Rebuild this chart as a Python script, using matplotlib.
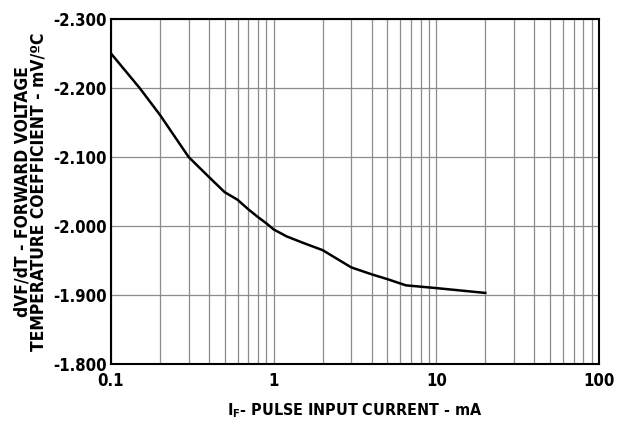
import matplotlib
matplotlib.use("Agg")
import matplotlib.pyplot as plt
from matplotlib.ticker import FixedLocator, FuncFormatter, NullFormatter

plt.rcParams['font.family'] = ['DejaVu Sans']
plt.rcParams['font.stretch'] = 'condensed'
plt.rcParams['font.weight'] = 'bold'

# curve
current_ma = [0.1, 0.15, 0.2, 0.3, 0.4, 0.5, 0.6, 0.7, 0.8, 0.9, 1.0, 1.2, 1.5, 2.0, 3.0, 4.0, 5.0, 6.5, 10.0, 20.0]
coeff_mv = [-2.250, -2.200, -2.161, -2.100, -2.071, -2.049, -2.038, -2.024, -2.013, -2.004, -1.995,
            -1.985, -1.976, -1.965, -1.940, -1.930, -1.923, -1.914, -1.910, -1.903]

y_ticks = [-2.3, -2.2, -2.1, -2.0, -1.9, -1.8]
x_ticks = [0.1, 1, 10, 100]
x_labels = ["0.1", "1", "10", "100"]

fig = plt.figure(figsize=(6.19, 4.28), dpi=100)
ax = fig.add_axes([111 / 619, 1 - 364 / 428, 488 / 619, 345 / 428])

ax.plot(current_ma, coeff_mv, color="black", lw=1.8)

ax.set_xscale("log")
ax.set_xlim(0.1, 100)
ax.set_ylim(-1.8, -2.3)

minors = [m * d for d in [0.1, 1, 10] for m in range(2, 10)]
ax.xaxis.set_minor_locator(FixedLocator(minors))
ax.xaxis.set_minor_formatter(NullFormatter())
ax.set_xticks(x_ticks)
ax.set_xticklabels(x_labels)
ax.set_yticks(y_ticks)
ax.yaxis.set_major_formatter(FuncFormatter(lambda v, p: "%.3f" % v))

ax.grid(True, which="both", axis="x", color="#8c8c8c", lw=0.9)
ax.grid(True, which="major", axis="y", color="#8c8c8c", lw=0.9)
ax.tick_params(which="both", length=0, labelsize=12)
ax.tick_params(axis="x", pad=6)
ax.tick_params(axis="y", pad=3)
for s in ax.spines.values():
    s.set_linewidth(1.5)

ax.set_xlabel("I$_\\mathbf{F}$- PULSE INPUT CURRENT - mA", fontsize=11.5, fontweight="bold", labelpad=8)
ax.set_ylabel("dVF/dT - FORWARD VOLTAGE\nTEMPERATURE COEFFICIENT - mV/ºC", fontsize=12.5,
              fontweight="bold", linespacing=0.9, labelpad=4)

fig.savefig("out.png", dpi=100)
